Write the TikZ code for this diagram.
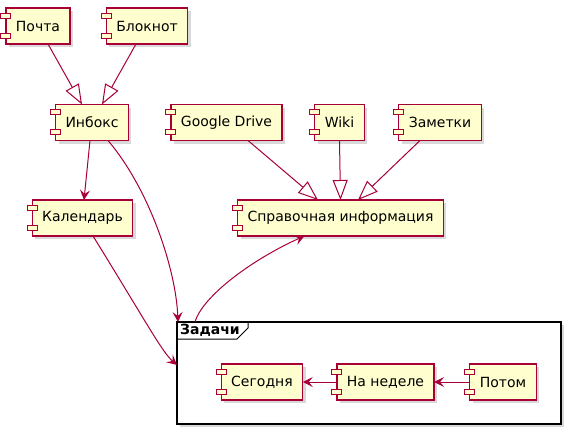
\documentclass[tikz,border=0pt]{standalone}
\usepackage{fontspec}
\setmainfont{DejaVu Sans}
\usetikzlibrary{positioning,calc,arrows.meta,shadows}
\definecolor{UmlRed}{RGB}{168,0,54}
\definecolor{UmlFill}{RGB}{254,254,206}
\tikzset{
  comp/.style={rectangle,draw=UmlRed,fill=UmlFill,line width=1.2pt,outer sep=0pt,
    minimum height=36pt,inner xsep=10pt,font=\fontsize{14}{16}\selectfont,
    drop shadow={shadow xshift=3pt,shadow yshift=-3pt,opacity=0.3}},
  tab/.style={draw=UmlRed,fill=UmlFill,line width=1pt},
  link/.style={draw=UmlRed,line width=1pt,-{Stealth[length=10pt,width=10pt,inset=4pt]}},
  ext/.style={draw=UmlRed,line width=1pt,-{Triangle[open,length=20pt,width=15pt]}},
  frm/.style={rectangle,draw=black,line width=1.5pt,fill=white,outer sep=0pt,
    drop shadow={shadow xshift=3pt,shadow yshift=-3pt,opacity=0.3}},
}

\begin{document}
\begin{tikzpicture}[x=1pt,y=-1pt]
\useasboundingbox (0,0) rectangle (571,434);
% frame
\node[frm,minimum width=384pt,minimum height=102pt] (tasks) at (369,373) {};
\draw[line width=1pt] ($(tasks.north west)+(71,0)$) -- ++(0,6) -- ++(-11,11)
  -- ($(tasks.north west)+(0,17)$);
\node[anchor=west,inner sep=0pt,font=\fontsize{14}{16}\selectfont\bfseries] (tasklbl)
  at ($(tasks.north west)+(3,8.5)$) {Задачи};
% components
\node[comp] (mail) at (38,26) {Почта};
\node[comp] (notepad) at (147,26) {Блокнот};
\node[comp] (inbox) at (92,122.5) {Инбокс};
\node[comp] (gdrive) at (226.5,122.5) {Google Drive};
\node[comp] (wiki) at (339.5,122.5) {Wiki};
\node[comp] (notes) at (440,122.5) {Заметки};
\node[comp] (cal) at (82.5,218) {Календарь};
\node[comp] (ref) at (340.5,218) {Справочная информация};
\node[comp] (today) at (262,382) {Сегодня};
\node[comp] (week) at (385.5,382) {На неделе};
\node[comp] (later) at (503,382) {Потом};
\foreach \n in {mail,notepad,inbox,gdrive,wiki,notes,cal,ref,today,week,later}{
  \draw[tab] ($(\n.north west)+(-5,5)$) rectangle ++(10,5);
  \draw[tab] ($(\n.north west)+(-5,25)$) rectangle ++(10,5);
}
% edges
\draw[ext] ($(mail.south)+(10,0)$) -- ($(inbox.north)+(-10,0)$);
\draw[ext] ($(notepad.south)+(-11,0)$) -- ($(inbox.north)+(10,0)$);
\draw[ext] ($(gdrive.south)+(21.5,0)$) -- ($(ref.north)+(-22.5,0)$);
\draw[ext] (wiki.south) -- (ref.north);
\draw[ext] ($(notes.south)+(-20,0)$) -- ($(ref.north)+(17.5,0)$);
\draw[link] ($(inbox.south)+(-2,0)$) -- ($(cal.north)+(1.5,0)$);
\draw[link] ($(inbox.south)+(16,0)$) .. controls (150,190) and (176,270) .. ($(tasks.north west)+(1,0)$);
\draw[link] ($(cal.south)+(10.5,0)$) .. controls (145,320) and (162,352) .. ($(tasks.north west)+(0,43)$);
\draw[link] ($(tasks.north west)+(18,0)$) .. controls (203,295) and (255,258) .. ($(ref.south)+(-36,0)$);
\draw[link] (week.west) -- (today.east);
\draw[link] (later.west) -- (week.east);
\end{tikzpicture}
\end{document}
